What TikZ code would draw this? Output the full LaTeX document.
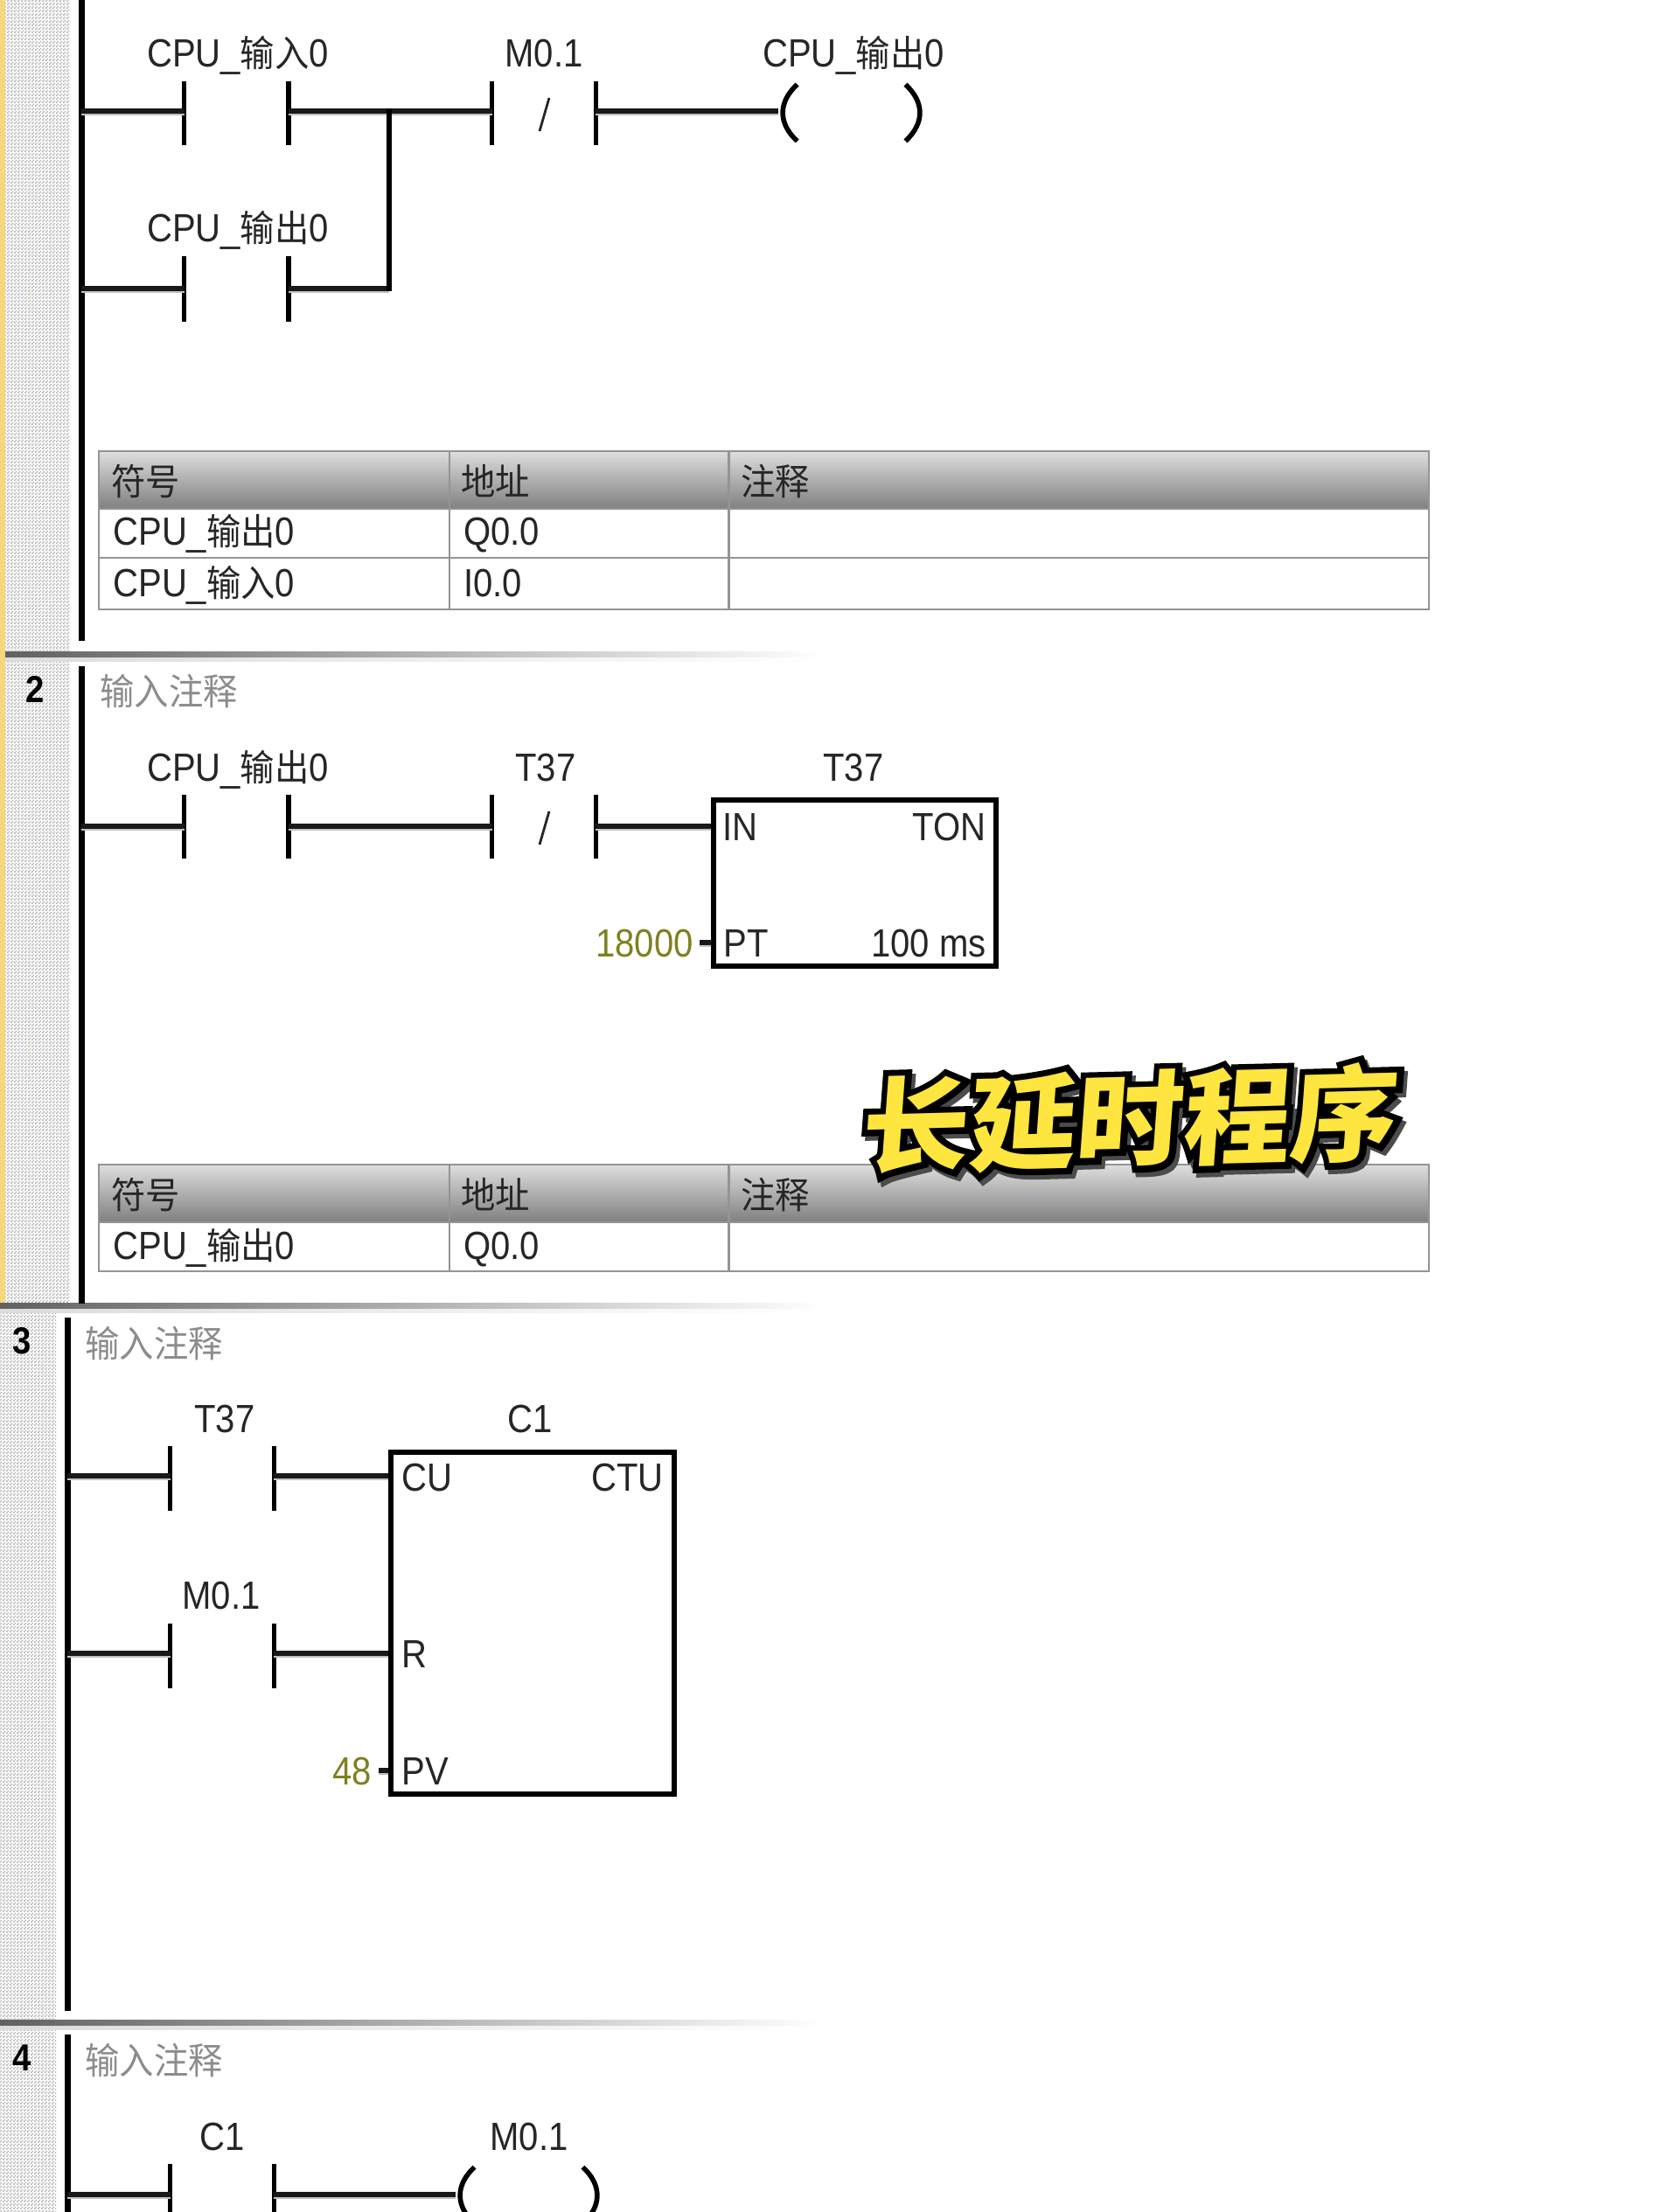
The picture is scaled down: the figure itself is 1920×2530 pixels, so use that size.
\documentclass[tikz,border=0pt]{standalone}
\usepackage{fontspec}
\usetikzlibrary{patterns,calc}
\setmainfont[FakeStretch=.89]{Liberation Sans}
\newfontfamily\cjk[Scale=.93,FakeStretch=.94]{Noto Sans CJK SC}
\newfontfamily\headfill[FakeSlant=.1,FakeStretch=1.03]{Noto Sans CJK SC Black}
\newfontfamily\headline[FakeSlant=.1,FakeStretch=1.03,FakeBold=12]{Noto Sans CJK SC Black}
\newcommand{\cn}[1]{{\cjk #1}}
\definecolor{stripe}{HTML}{F8D77A}
\definecolor{dith}{HTML}{B2B2B2}
\definecolor{olive}{HTML}{808020}
\definecolor{tline}{HTML}{949494}
\definecolor{wshadow}{HTML}{C0C0C0}
\definecolor{heady}{HTML}{FFE53F}
\pgfdeclarepatternformonly{dither}{\pgfqpoint{0pt}{0pt}}{\pgfqpoint{2pt}{2pt}}{\pgfqpoint{2pt}{2pt}}{%
  \pgfpathrectangle{\pgfqpoint{0pt}{0pt}}{\pgfqpoint{1pt}{1pt}}%
  \pgfpathrectangle{\pgfqpoint{1pt}{1pt}}{\pgfqpoint{1pt}{1pt}}%
  \pgfusepath{fill}}
\tikzset{
  lab/.style={inner sep=0pt,anchor=base,font=\fontsize{22.5}{24}\selectfont,text=black!85},
  labl/.style={lab,anchor=base west},
  labr/.style={lab,anchor=base east},
  const/.style={labr,text=olive},
  note/.style={labl,text=black!45},
  num/.style={lab,font=\fontsize{21.5}{24}\selectfont\bfseries,text=black},
  rail/.style={line width=3.5pt,black},
  wire/.style={line width=2.8pt,black!90,preaction={draw=wshadow,line width=1.6pt,transform canvas={yshift=-1.8pt}}},
  bar/.style={line width=2.7pt,black},
  thinbar/.style={line width=1.4pt,black!85},
  coilarc/.style={line width=2.8pt,black},
  contactbox/.style={inner sep=0pt,minimum width=59pt,minimum height=36.5pt},
  coilbox/.style={inner sep=0pt,minimum width=83.5pt,minimum height=32pt},
  fbox/.style={draw=black,line width=2.6pt,inner sep=0pt},
  hcell/.style={draw=tline,line width=1.4pt,inner sep=0pt,top color=black!13,bottom color=black!50},
  rcell/.style={draw=tline,line width=1.4pt,inner sep=0pt,fill=white},
  caption/.style={inner sep=0pt,rotate=1.5,font=\fontsize{59.5}{60}\headline},
  captionfill/.style={inner sep=0pt,rotate=1.5,text=heady,font=\fontsize{59.5}{60}\headfill},
}
% name, left bar x, right bar x, top y, bottom y
\newcommand{\contact}[5]{%
  \node[contactbox,minimum width={(#3-#2)*.5pt},minimum height={(#5-#4)*.5pt}] (#1) at ({(#2+#3)/2},{(#4+#5)/2}) {};
  \draw[bar] (#1.north west) -- (#1.south west);
  \draw[bar] (#1.north east) -- (#1.south east);}
% name, x0, x1, y0, y1, style
\newcommand{\cell}[6]{\node[#6,minimum width={(#3-#2)*.5pt},minimum height={(#5-#4)*.5pt}] (#1) at ({(#2+#3)/2},{(#4+#5)/2}) {};}
% name, centre x, centre y
\newcommand{\coil}[3]{%
  \node[coilbox] (#1) at (#2,#3) {};
  \draw[coilarc] ($(#1.north west)+(11pt,0)$) .. controls ($(#1.west)+(0pt,6pt)$) and ($(#1.west)+(0pt,-6pt)$) .. ($(#1.south west)+(11pt,0)$);
  \draw[coilarc] ($(#1.north east)+(-11pt,0)$) .. controls ($(#1.east)+(0pt,6pt)$) and ($(#1.east)+(0pt,-6pt)$) .. ($(#1.south east)+(-11pt,0)$);}
\begin{document}
\begin{tikzpicture}[x=.5pt,y=-.5pt]
\useasboundingbox (0,0) rectangle (1920,2530);
\fill[white] (0,0) rectangle (1920,2530);
% left margins
\fill[pattern=dither,pattern color=dith] (6,0) rectangle (80,1490);
\fill[stripe] (0,0) rectangle (6,1490);
\fill[pattern=dither,pattern color=dith] (0,1490) rectangle (64,2530);
% rung separators
\foreach \sx/\sy in {6/745,0/1490,0/2310}{
  \shade[left color=black!62,right color=white] (\sx,\sy) rectangle (940,\sy+7);
  \shade[left color=black!14,right color=white] (\sx,\sy+7) rectangle (940,\sy+11);
}
% power rails
\coordinate (r1t) at (93,0);      \coordinate (r1b) at (93,733);
\coordinate (r2t) at (93,762);    \coordinate (r2b) at (93,1491);
\coordinate (r3t) at (77,1507);   \coordinate (r3b) at (77,2300);
\coordinate (r4t) at (77,2327);   \coordinate (r4b) at (77,2530);
\draw[rail] (r1t) -- (r1b);
\draw[rail] (r2t) -- (r2b);
\draw[rail] (r3t) -- (r3b);
\draw[rail] (r4t) -- (r4b);

%% Network 1
\node[lab] (l1a) at (272,77) {CPU\_\cn{输入}0};
\node[lab] (l1b) at (622,77) {M0.1};
\node[lab] (l1c) at (976,77) {CPU\_\cn{输出}0};
\node[lab] (l1d) at (272,277) {CPU\_\cn{输出}0};
\contact{c1a}{211}{329.5}{93}{166}
\contact{c1b}{563}{681}{93}{166}
\contact{c1d}{211}{329.5}{293}{368}
\coordinate (s1a) at (628,112); \coordinate (s1b) at (617,150);
\draw[thinbar] (s1a) -- (s1b);
\coil{q1}{973.5}{129}
\coordinate (y1) at (93,127);
\coordinate (y1d) at (93,330);
\coordinate (j1) at (445,127);
\coordinate (j1d) at (445,330);
\draw[wire] (y1) -- (y1 -| c1a.west);
\draw[wire] (y1 -| c1a.east) -- (y1 -| c1b.west);
\draw[wire] (y1 -| c1b.east) -- (y1 -| q1.west);
\draw[wire] (y1d) -- (y1d -| c1d.west);
\draw[wire] (y1d -| c1d.east) -- (j1d);
\draw[line width=2.8pt,black,line cap=rect] (j1) -- (j1d);
% table 1
\cell{t1h1}{113}{514}{516}{582}{hcell}
\cell{t1h2}{514}{833.5}{516}{582}{hcell}
\cell{t1h3}{833.5}{1634}{516}{582}{hcell}
\cell{t1a1}{113}{514}{582}{638}{rcell}
\cell{t1a2}{514}{833.5}{582}{638}{rcell}
\cell{t1a3}{833.5}{1634}{582}{638}{rcell}
\cell{t1b1}{113}{514}{638}{697}{rcell}
\cell{t1b2}{514}{833.5}{638}{697}{rcell}
\cell{t1b3}{833.5}{1634}{638}{697}{rcell}
\node[labl] (x1a) at (127,566) {\cn{符号}};
\node[labl] (x1b) at (527,566) {\cn{地址}};
\node[labl] (x1c) at (847,566) {\cn{注释}};
\node[labl] (x1d) at (129,623) {CPU\_\cn{输出}0};
\node[labl] (x1e) at (530,623) {Q0.0};
\node[labl] (x1f) at (129,682) {CPU\_\cn{输入}0};
\node[labl] (x1g) at (530,682) {I0.0};

%% Network 2
\node[num] (n2) at (40,803) {2};
\node[note] (k2) at (114,806) {\cn{输入注释}};
\node[lab] (l2a) at (272,893) {CPU\_\cn{输出}0};
\node[lab] (l2b) at (624,893) {T37};
\node[lab] (l2c) at (976,893) {T37};
\contact{c2a}{211}{329.5}{909}{982}
\contact{c2b}{563}{681}{909}{982}
\coordinate (s2a) at (628,928); \coordinate (s2b) at (617,966);
\draw[thinbar] (s2a) -- (s2b);
\cell{b2}{816}{1139}{915}{1105}{fbox}
\coordinate (y2) at (93,945);
\coordinate (y2p) at (800,1078);
\draw[wire] (y2) -- (y2 -| c2a.west);
\draw[wire] (y2 -| c2a.east) -- (y2 -| c2b.west);
\draw[wire] (y2 -| c2b.east) -- (y2 -| b2.west);
\draw[wire] (y2p) -- (y2p -| b2.west);
\node[labl] (f2a) at (826,961) {IN};
\node[labr] (f2b) at (1128,961) {TON};
\node[labl] (f2c) at (827,1094) {PT};
\node[labr] (f2d) at (1128,1094) {100 ms};
\node[const] (f2e) at (793,1094) {18000};
% table 2
\cell{t2h1}{113}{514}{1332}{1398}{hcell}
\cell{t2h2}{514}{833.5}{1332}{1398}{hcell}
\cell{t2h3}{833.5}{1634}{1332}{1398}{hcell}
\cell{t2a1}{113}{514}{1398}{1454}{rcell}
\cell{t2a2}{514}{833.5}{1398}{1454}{rcell}
\cell{t2a3}{833.5}{1634}{1398}{1454}{rcell}
\node[labl] (x2a) at (127,1382) {\cn{符号}};
\node[labl] (x2b) at (527,1382) {\cn{地址}};
\node[labl] (x2c) at (847,1382) {\cn{注释}};
\node[labl] (x2d) at (129,1440) {CPU\_\cn{输出}0};
\node[labl] (x2e) at (530,1440) {Q0.0};

%% Network 3
\node[num] (n3) at (25,1548) {3};
\node[note] (k3) at (97,1552) {\cn{输入注释}};
\node[lab] (l3a) at (257,1638) {T37};
\node[lab] (l3b) at (606,1638) {C1};
\node[lab] (l3c) at (253,1840) {M0.1};
\contact{c3a}{195}{313}{1654}{1728}
\contact{c3b}{195}{313}{1857}{1931}
\cell{b3}{447}{771}{1661}{2052}{fbox}
\coordinate (y3a) at (77,1688);
\coordinate (y3b) at (77,1891);
\coordinate (y3p) at (433,2025);
\draw[wire] (y3a) -- (y3a -| c3a.west);
\draw[wire] (y3a -| c3a.east) -- (y3a -| b3.west);
\draw[wire] (y3b) -- (y3b -| c3b.west);
\draw[wire] (y3b -| c3b.east) -- (y3b -| b3.west);
\draw[wire] (y3p) -- (y3p -| b3.west);
\node[labl] (f3a) at (459,1705) {CU};
\node[labr] (f3b) at (759,1705) {CTU};
\node[labl] (f3c) at (459,1907) {R};
\node[labl] (f3d) at (459,2041) {PV};
\node[const] (f3e) at (425,2041) {48};

%% Network 4
\node[num] (n4) at (25,2368) {4};
\node[note] (k4) at (97,2372) {\cn{输入注释}};
\node[lab] (l4a) at (254,2459) {C1};
\node[lab] (l4b) at (605,2459) {M0.1};
\contact{c4a}{195}{313}{2475}{2548}
\coil{q4}{604.5}{2511}
\coordinate (y4) at (77,2510);
\draw[wire] (y4) -- (y4 -| c4a.west);
\draw[wire] (y4 -| c4a.east) -- (y4 -| q4.west);

%% Caption
\node[caption,text=black!70] (capS) at (1293,1285) {长延时程序};
\node[caption,text=black] (capB) at (1289,1280) {长延时程序};
\node[captionfill] (capF) at (1289,1280) {长延时程序};
\end{tikzpicture}
\end{document}
